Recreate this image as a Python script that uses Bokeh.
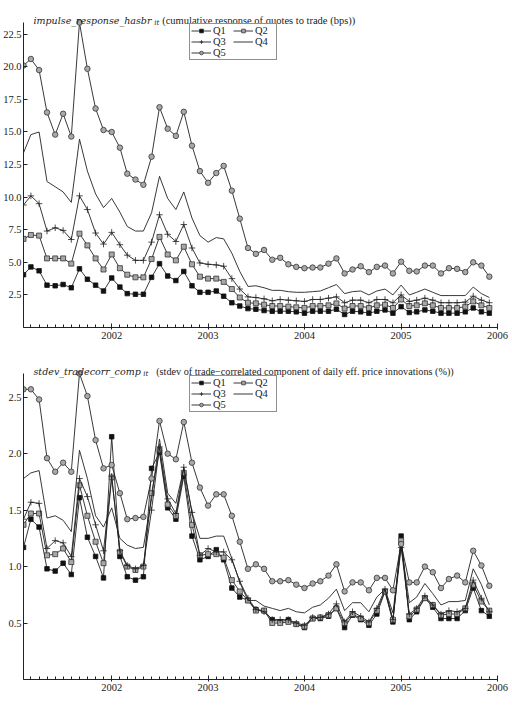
import pandas as pd
from bokeh.plotting import figure
from bokeh.layouts import column
from bokeh.core.properties import value
from bokeh.models import (Range1d, FixedTicker, DatetimeTickFormatter, NumeralTickFormatter,
                          Legend, LegendItem)
from bokeh.embed import file_html
from bokeh.resources import INLINE

# ---------------- data ----------------
months = pd.date_range("2001-02-01", "2005-12-01", freq="MS")
year_labels = ["2002", "2003", "2004", "2005", "2006"]
series_names = ["Q1", "Q2", "Q3", "Q4", "Q5"]

# panel 1: impulse_response_hasbr (bps)
ir_q1 = [4.05, 4.65, 4.35, 3.25, 3.2, 3.3, 3.05, 4.5, 3.7, 3.25, 2.8, 3.8, 3.1, 2.6, 2.55, 2.55, 3.85, 4.9, 3.95, 3.6,
         4.3, 3.2, 2.7, 2.7, 2.8, 2.4, 1.9, 1.65, 1.45, 1.4, 1.3, 1.25, 1.25, 1.25, 1.2, 1.1, 1.25, 1.25, 1.25, 1.4,
         1.0, 1.25, 1.2, 1.1, 1.25, 1.35, 1.1, 1.6, 1.15, 1.2, 1.35, 1.25, 1.1, 1.1, 1.1, 1.2, 1.5, 1.2, 1.1]
ir_q2 = [6.8, 7.1, 7.05, 5.3, 5.3, 5.3, 4.9, 7.2, 6.3, 5.3, 4.45, 5.6, 4.55, 4.05, 3.85, 3.85, 5.25, 6.95, 5.6, 5.15,
         6.2, 4.85, 3.9, 3.75, 3.75, 3.5, 2.95, 2.3, 1.9, 1.85, 1.75, 1.65, 1.65, 1.6, 1.55, 1.5, 1.65, 1.65, 1.7, 1.85,
         1.45, 1.65, 1.65, 1.5, 1.7, 1.75, 1.5, 2.15, 1.65, 1.7, 1.85, 1.7, 1.5, 1.5, 1.5, 1.6, 2.0, 1.7, 1.5]
ir_q3 = [9.4, 10.1, 9.5, 7.4, 7.65, 7.45, 6.75, 10.1, 9.05, 7.25, 6.4, 7.3, 6.35, 5.55, 5.15, 5.15, 6.55, 8.65, 7.15, 6.6,
         7.9, 6.1, 4.95, 4.85, 4.8, 4.7, 3.75, 2.95, 2.35, 2.3, 2.2, 2.05, 2.15, 2.1, 2.05, 2.0, 2.15, 2.15, 2.25, 2.35,
         1.9, 2.1, 2.1, 1.9, 2.15, 2.15, 1.9, 2.5, 2.0, 2.1, 2.25, 2.1, 1.9, 1.9, 1.9, 1.95, 2.4, 2.1, 1.9]
ir_q4 = [13.4, 14.8, 15.0, 11.2, 10.8, 10.4, 9.6, 14.45, 12.0, 10.25, 9.2, 9.9, 8.85, 7.75, 7.4, 7.4, 8.8, 11.6, 9.9, 9.05,
         10.4, 8.4, 7.05, 6.55, 6.9, 6.8, 5.7, 4.3, 3.15, 3.2, 3.05, 2.85, 2.85, 2.75, 2.7, 2.7, 2.75, 2.8, 3.05, 3.3,
         2.6, 2.75, 2.8, 2.5, 2.8, 2.95, 2.5, 3.25, 2.5, 2.7, 2.95, 2.7, 2.45, 2.45, 2.45, 2.45, 3.1, 2.6, 2.3]
ir_q5 = [20.1, 20.6, 19.75, 16.5, 14.8, 16.4, 14.65, 23.4, 19.85, 16.8, 15.15, 15.0, 13.8, 11.8, 11.35, 10.95, 13.1, 16.9,
         15.25, 14.7, 16.55, 13.95, 12.0, 11.1, 11.85, 12.4, 10.5, 8.35, 6.1, 5.65, 5.95, 5.2, 5.35, 4.85, 4.65, 4.55,
         4.6, 4.6, 4.9, 5.3, 4.15, 4.45, 4.7, 4.25, 4.65, 4.75, 4.15, 5.05, 4.35, 4.3, 4.75, 4.75, 4.15, 4.55, 4.5,
         4.25, 5.0, 4.75, 3.9]
ir_ticks = [2.5, 5.0, 7.5, 10.0, 12.5, 15.0, 17.5, 20.0, 22.5]
ir_title = ["impulse_response_hasbr", "it", "(cumulative response of quotes to trade (bps))"]

# panel 2: stdev_tradecorr_comp (%)
sd_q1 = [1.17, 1.42, 1.35, 0.98, 0.96, 1.03, 0.93, 1.61, 1.26, 1.09, 0.9, 2.15, 1.09, 0.91, 0.88, 0.91, 1.87, 2.01, 1.52,
         1.42, 1.8, 1.27, 1.06, 1.09, 1.15, 1.06, 0.81, 0.73, 0.7, 0.62, 0.61, 0.53, 0.51, 0.53, 0.49, 0.46, 0.54, 0.54,
         0.56, 0.63, 0.46, 0.57, 0.53, 0.48, 0.58, 0.78, 0.51, 1.27, 0.53, 0.6, 0.72, 0.64, 0.54, 0.54, 0.54, 0.61, 0.81,
         0.61, 0.56]
sd_q2 = [1.37, 1.47, 1.47, 1.1, 1.11, 1.16, 1.04, 1.72, 1.45, 1.22, 1.03, 1.79, 1.13, 1.0, 0.97, 1.0, 1.65, 2.03, 1.55,
         1.45, 1.83, 1.37, 1.1, 1.11, 1.11, 1.08, 0.88, 0.78, 0.7, 0.61, 0.61, 0.5, 0.5, 0.51, 0.49, 0.47, 0.54, 0.55,
         0.57, 0.63, 0.5, 0.58, 0.54, 0.5, 0.61, 0.78, 0.53, 1.23, 0.56, 0.62, 0.72, 0.66, 0.57, 0.58, 0.58, 0.63, 0.84,
         0.69, 0.61]
sd_q3 = [1.42, 1.57, 1.56, 1.16, 1.23, 1.21, 1.09, 1.78, 1.62, 1.37, 1.14, 1.8, 1.14, 1.01, 0.98, 1.01, 1.5, 2.06, 1.6,
         1.47, 1.88, 1.48, 1.1, 1.16, 1.13, 1.13, 1.06, 0.87, 0.72, 0.62, 0.6, 0.53, 0.53, 0.53, 0.5, 0.48, 0.55, 0.55,
         0.58, 0.67, 0.51, 0.6, 0.56, 0.51, 0.63, 0.8, 0.53, 1.17, 0.58, 0.63, 0.74, 0.66, 0.58, 0.61, 0.6, 0.63, 0.88,
         0.72, 0.6]
sd_q4 = [1.78, 1.83, 1.85, 1.43, 1.45, 1.41, 1.31, 2.03, 1.78, 1.45, 1.35, 1.52, 1.25, 1.19, 1.16, 1.17, 1.6, 2.13, 1.65,
         1.56, 1.87, 1.48, 1.25, 1.25, 1.27, 1.27, 1.07, 0.86, 0.7, 0.7, 0.65, 0.63, 0.61, 0.63, 0.6, 0.59, 0.64, 0.66,
         0.72, 0.8, 0.61, 0.68, 0.68, 0.6, 0.73, 0.8, 0.59, 1.19, 0.68, 0.73, 0.85, 0.76, 0.66, 0.69, 0.69, 0.7, 0.98,
         0.84, 0.66]
sd_q5 = [2.57, 2.57, 2.48, 1.96, 1.84, 1.92, 1.84, 2.71, 2.51, 2.12, 1.87, 1.9, 1.65, 1.42, 1.43, 1.44, 1.78, 2.29, 2.0,
         1.95, 2.28, 1.92, 1.7, 1.54, 1.64, 1.64, 1.45, 1.22, 0.98, 1.02, 0.98, 0.87, 0.87, 0.88, 0.84, 0.81, 0.85, 0.87,
         0.92, 1.02, 0.78, 0.86, 0.86, 0.79, 0.9, 0.9, 0.79, 1.2, 0.86, 0.86, 1.0, 0.95, 0.81, 0.89, 0.92, 0.86, 1.14,
         1.01, 0.83]
sd_ticks = [0.5, 1.0, 1.5, 2.0, 2.5]
sd_title = ["stdev_tradecorr_comp", "it",
            "(stdev of trade\u2212correlated component of daily eff. price innovations  (%))"]

# ---------------- styling ----------------
INK = "#222222"
SERIF = "Liberation Serif"
FRAME_L, FRAME_R = 22, 497
STYLES = {
    "Q1": dict(marker="square", size=4.5, fill_color="#111111", line_color="#111111"),
    "Q2": dict(marker="square", size=5, fill_color="#a8a8a8", line_color="#333333"),
    "Q3": dict(marker="cross", size=6.5, fill_color=None, line_color="#222222"),
    "Q4": None,
    "Q5": dict(marker="circle", size=5.5, fill_color="#a8a8a8", line_color="#333333"),
}

year_ms = [pd.Timestamp(y + "-01-01").value // 10**6 for y in year_labels]
month_ms = [t.value // 10**6 for t in pd.date_range(months[0], pd.Timestamp(year_labels[-1] + "-01-01"), freq="MS")]


def make_panel(series, yticks, page_top, head, fh, bottom, leg_top, parts, main_size, sub_x, rest_x, rest_size):
    """head: pixels between figure top and the top of the data axis (title lives there)."""
    ymax = max(max(s) for s in series)
    frame_h = head + fh
    y_end = ymax * frame_h / fh           # top of frame so that ymax sits `head` px below it
    p = figure(width=512, height=frame_h + bottom, x_axis_type="datetime",
               x_range=Range1d(months[0], pd.Timestamp(year_labels[-1] + "-01-01")),
               y_range=Range1d(0, y_end), output_backend="svg", toolbar_location=None, title=None,
               min_border_left=FRAME_L, min_border_right=512 - FRAME_R, min_border_top=0,
               min_border_bottom=bottom)
    # pixel coordinate ranges for title text (x = page px, y = page px)
    p.extra_x_ranges = {"px": Range1d(FRAME_L, FRAME_R)}
    p.extra_y_ranges = {"py": Range1d(page_top + frame_h, page_top)}
    p.outline_line_color = None
    p.xgrid.visible = False
    p.ygrid.visible = False

    p.xaxis.ticker = FixedTicker(ticks=year_ms, minor_ticks=month_ms)
    p.xaxis.formatter = DatetimeTickFormatter(years="%Y", months="%Y", days="%Y", hours="%Y")
    p.yaxis.ticker = FixedTicker(ticks=yticks)
    p.yaxis.formatter = NumeralTickFormatter(format="0.0")
    p.yaxis.bounds = (0, ymax)
    for ax in (p.xaxis, p.yaxis):
        ax.axis_line_color = INK
        ax.major_tick_line_color = INK
        ax.minor_tick_line_color = INK
        ax.major_label_text_font = SERIF
        ax.major_label_text_font_size = "10.5px"
        ax.major_label_text_color = INK
        ax.major_tick_in = 4
        ax.major_label_standoff = 2
    p.xaxis.major_tick_out = 2
    p.xaxis.minor_tick_in = 3
    p.xaxis.minor_tick_out = 0
    p.yaxis.major_tick_out = 0
    p.yaxis.minor_tick_line_color = None

    items = []
    for name, vals in zip(series_names, series):
        rs = [p.line(list(months), vals, line_color=INK, line_width=0.9)]
        st = STYLES[name]
        if st is not None:
            rs.append(p.scatter(list(months), vals, marker=st["marker"], size=st["size"],
                                fill_color=st["fill_color"], line_color=st["line_color"], line_width=0.8))
        items.append(LegendItem(label=name, renderers=rs))

    leg_h = 35
    legend = Legend(items=items, location=(166, frame_h - head - leg_top - leg_h), orientation="horizontal",
                    ncols=2, label_text_font=SERIF, label_text_font_size="10.5px", label_text_color=INK,
                    glyph_width=20, glyph_height=9, label_height=9, label_standoff=2,
                    spacing=0, padding=1, margin=0,
                    border_line_color=INK, border_line_width=1, background_fill_alpha=1)
    p.add_layout(legend)

    base = page_top + head - 2.5
    p.text(x=[32], y=[base], text=[parts[0]], x_range_name="px", y_range_name="py",
           text_font=value("DejaVu Serif"), text_font_style="italic", text_font_size=main_size,
           text_color=INK, text_baseline="alphabetic")
    p.text(x=[sub_x], y=[base + 2.5], text=[parts[1]], x_range_name="px", y_range_name="py",
           text_font=value("DejaVu Serif"), text_font_style="italic", text_font_size="7px",
           text_color=INK, text_baseline="alphabetic")
    p.text(x=[rest_x], y=[base], text=[parts[2]], x_range_name="px", y_range_name="py",
           text_font=value(SERIF), text_font_size=rest_size, text_color=INK, text_baseline="alphabetic")
    return p


p1 = make_panel([ir_q1, ir_q2, ir_q3, ir_q4, ir_q5], ir_ticks, 0, 22, 305, 23, 3,
                ir_title, "9.5px", 153, 161, "10.5px")
p2 = make_panel([sd_q1, sd_q2, sd_q3, sd_q4, sd_q5], sd_ticks, 350, 23, 306, 30, 4,
                sd_title, "9.5px", 142, 155, "10.2px")

layout = column(p1, p2, spacing=0)
open("out.html", "w").write(file_html(layout, INLINE))
